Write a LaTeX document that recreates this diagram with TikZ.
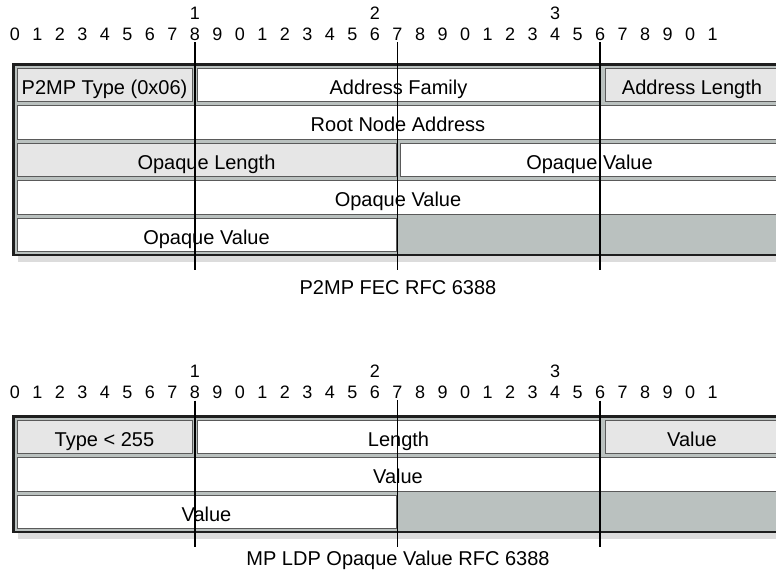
\documentclass[tikz,border=0pt]{standalone}
\usepackage{fontspec}
\setmainfont{Liberation Sans}
\usepackage{tikz}
\usetikzlibrary{positioning}
\definecolor{colFrame}    {HTML}{BAC1BF}
\definecolor{colCellGray} {HTML}{E6E6E6}
\definecolor{colCellLine} {HTML}{5A5A5A}
\definecolor{colShadow}   {HTML}{DCDCDC}
\definecolor{colBorder}   {HTML}{1E1E1E}
\tikzset{
  cell/.style={
    draw=colCellLine, line width=0.9pt, fill=white,
    anchor=north west, minimum height=33.5pt,
    inner sep=0pt, outer sep=0pt,
    text height=18.5pt, text depth=0pt,
    font=\fontsize{20}{24}\selectfont
  },
  graycell/.style={cell, fill=colCellGray},
  frame/.style={draw=colBorder, line width=2.5pt, fill=colFrame},
  shade/.style={fill=colShadow},
  bitnum/.style={inner sep=0pt, font=\fontsize{18}{21}\selectfont},
  bitline/.style={draw=black, line width=1.3pt, shorten <=1.5pt},
  caption/.style={font=\fontsize{20}{24}\selectfont}
}
% bit ruler: #1 name, #2 y of tens row, #3 y of digit row
\newcommand{\bitruler}[3]{%
  \foreach \t/\b in {1/8,2/16,3/24}
    \node[bitnum] (t#1-\t) at ({15+22.5*\b},#2) {\t};
  \foreach \i in {0,...,31}{
    \pgfmathtruncatemacro{\dig}{mod(\i,10)}
    \node[bitnum] (d#1-\i) at ({15+22.5*\i},#3) {\dig};
  }%
}

\begin{document}
\begin{tikzpicture}[x=1pt, y=-1pt]
  \useasboundingbox (0,0) rectangle (776,573);
  \clip (0,0) rectangle (776,573);

  %% ── P2MP FEC ────────────────────────────────────────────────
  \bitruler{A}{13}{34}
  \fill[shade] (18,256) rectangle (800,262);
  \draw[frame] (13.25,64.25) rectangle (795,255);

  \node[graycell, minimum width=175pt] (typeA) at (17,68)   {P2MP Type (0x06)};
  \node[cell,     minimum width=403pt] (afiA)  at (197,68)  {Address Family};
  \node[graycell, minimum width=174pt] (alenA) at (605,68)  {Address Length};
  \node[cell,     minimum width=762pt] (rootA) at (17,105.5) {Root Node Address};
  \node[graycell, minimum width=379pt] (olenA) at (17,143)  {Opaque Length};
  \node[cell,     minimum width=379pt] (ovalA1) at (400,143) {Opaque Value};
  \node[cell,     minimum width=762pt] (ovalA2) at (17,180.5) {Opaque Value};
  \node[cell,     minimum width=379pt] (ovalA3) at (17,218) {Opaque Value};

  \coordinate (endA) at (0,270);
  \foreach \b in {8,17,26}
    \draw[bitline] (dA-\b.south) -- (dA-\b.south |- endA);

  \node[caption] (capA) at (398,288) {P2MP FEC RFC 6388};

  %% ── MP LDP Opaque Value ─────────────────────────────────────
  \bitruler{B}{371}{392.5}
  \fill[shade] (18,533) rectangle (800,539);
  \draw[frame] (13.25,416.25) rectangle (795,532);

  \node[graycell, minimum width=175pt] (typeB) at (17,420)   {Type < 255};
  \node[cell,     minimum width=403pt] (lenB)  at (197,420)  {Length};
  \node[graycell, minimum width=174pt] (valB1) at (605,420)  {Value};
  \node[cell,     minimum width=762pt] (valB2) at (17,457.5) {Value};
  \node[cell,     minimum width=379pt] (valB3) at (17,495)   {Value};

  \coordinate (endB) at (0,547);
  \foreach \b in {8,17,26}
    \draw[bitline] (dB-\b.south) -- (dB-\b.south |- endB);

  \node[caption] (capB) at (398,560) {MP LDP Opaque Value RFC 6388};
\end{tikzpicture}
\end{document}
